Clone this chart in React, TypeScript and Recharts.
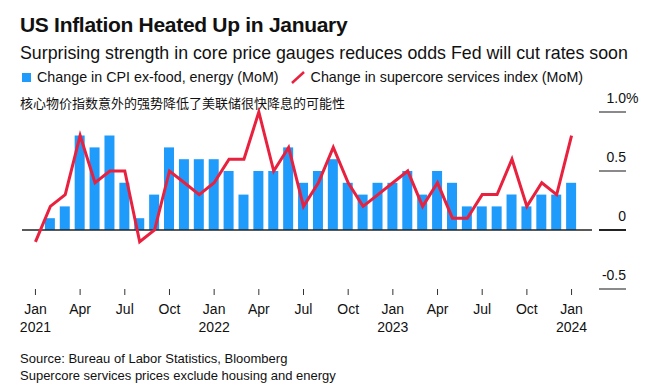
import React from "react";
import { ComposedChart, Bar, Line, XAxis, YAxis, ReferenceLine } from "recharts";

const months = [
  "Jan", "Feb", "Mar", "Apr", "May", "Jun", "Jul", "Aug", "Sep", "Oct", "Nov", "Dec",
  "Jan", "Feb", "Mar", "Apr", "May", "Jun", "Jul", "Aug", "Sep", "Oct", "Nov", "Dec",
  "Jan", "Feb", "Mar", "Apr", "May", "Jun", "Jul", "Aug", "Sep", "Oct", "Nov", "Dec",
  "Jan",
];
const years = [
  2021, 2021, 2021, 2021, 2021, 2021, 2021, 2021, 2021, 2021, 2021, 2021,
  2022, 2022, 2022, 2022, 2022, 2022, 2022, 2022, 2022, 2022, 2022, 2022,
  2023, 2023, 2023, 2023, 2023, 2023, 2023, 2023, 2023, 2023, 2023, 2023,
  2024,
];
const coreCpi = [
  0.0, 0.1, 0.2, 0.8, 0.7, 0.8, 0.4, 0.1, 0.3, 0.7, 0.6, 0.6,
  0.6, 0.5, 0.3, 0.5, 0.5, 0.7, 0.4, 0.5, 0.6, 0.4, 0.3, 0.4,
  0.4, 0.5, 0.3, 0.5, 0.4, 0.2, 0.2, 0.2, 0.3, 0.2, 0.3, 0.3,
  0.4,
];
const supercore = [
  -0.1, 0.2, 0.3, 0.8, 0.4, 0.5, 0.5, -0.1, 0.0, 0.5, 0.4, 0.3,
  0.4, 0.6, 0.6, 1.0, 0.5, 0.7, 0.2, 0.4, 0.7, 0.4, 0.2, 0.3,
  0.4, 0.5, 0.2, 0.4, 0.1, 0.1, 0.3, 0.3, 0.6, 0.2, 0.4, 0.3,
  0.8,
];
const yTicks = [-0.5, 0, 0.5, 1.0];
const yTickLabels = ["-0.5", "0", "0.5", "1.0"];

const data = months.map((m, i) => ({
  key: `${years[i]}-${i}`,
  month: m,
  year: years[i],
  core: coreCpi[i],
  sc: supercore[i],
}));

const FONT = "'Liberation Sans', Arial, Helvetica, sans-serif";
const BLUE = "#1f9bfb";
const RED = "#e8213f";

const XTick = (props: any) => {
  const { x, y, payload } = props;
  const d = data.find((r) => r.key === payload.value);
  if (!d) return null;
  return (
    <g>
      <line x1={x} x2={x} y1={y} y2={y + 6} stroke="#333" strokeWidth={1} />
      <text x={x} y={y + 25} textAnchor="middle" fontSize={14} fill="#111" fontFamily={FONT}>
        {d.month}
      </text>
      {d.month === "Jan" && (
        <text x={x} y={y + 43} textAnchor="middle" fontSize={14} fill="#111" fontFamily={FONT}>
          {d.year}
        </text>
      )}
    </g>
  );
};

const YTick = (props: any) => {
  const { x, y, payload } = props;
  const idx = yTicks.indexOf(payload.value);
  const label = idx >= 0 ? yTickLabels[idx] : String(payload.value);
  const isZero = payload.value === 0;
  return (
    <g>
      <line x1={x + 7} x2={x + 34} y1={y} y2={y} stroke={isZero ? "#222" : "#8a8a8a"} strokeWidth={2} />
      <text x={x + 34} y={y - 9} textAnchor="end" fontSize={14} fill="#111" fontFamily={FONT}>
        {label}
      </text>
      {payload.value === 1 && (
        <text x={x + 34} y={y - 9} textAnchor="start" fontSize={14} fill="#111" fontFamily={FONT}>
          %
        </text>
      )}
    </g>
  );
};

export default function App() {
  return (
    <div
      style={{
        position: "absolute",
        left: 0,
        top: 0,
        width: 666,
        height: 391,
        background: "#fff",
        fontFamily: FONT,
        color: "#111",
        overflow: "hidden",
      }}
    >
      <div style={{ position: "absolute", left: 20, top: 13, fontSize: 21, fontWeight: 700, letterSpacing: -0.3, whiteSpace: "nowrap" }}>
        US Inflation Heated Up in January
      </div>
      <div style={{ position: "absolute", left: 20, top: 43, fontSize: 17.8, whiteSpace: "nowrap" }}>
        Surprising strength in core price gauges reduces odds Fed will cut rates soon
      </div>
      <div style={{ position: "absolute", left: 22, top: 69, fontSize: 14.3, whiteSpace: "nowrap", display: "flex", alignItems: "center" }}>
        <span style={{ display: "inline-block", width: 9, height: 9, background: BLUE, marginRight: 6 }} />
        <span>Change in CPI ex-food, energy (MoM)</span>
        <svg width={32} height={16} style={{ display: "block" }}>
          <line x1={13} y1={14} x2={25} y2={3} stroke={RED} strokeWidth={2.5} />
        </svg>
        <span>Change in supercore services index (MoM)</span>
      </div>
      <div style={{ position: "absolute", left: 20, top: 93, fontSize: 13, whiteSpace: "nowrap", fontFamily: "'Noto Sans CJK SC', sans-serif" }}>
        核心物价指数意外的强势降低了美联储很快降息的可能性
      </div>
      <div style={{ position: "absolute", left: 0, top: 0 }}>
        <ComposedChart
          width={666}
          height={391}
          data={data}
          margin={{ top: 112, right: 0, bottom: 62, left: 22 }}
          barSize={10}
        >
          <XAxis
            dataKey="key"
            interval={2}
            axisLine={false}
            tickLine={false}
            tickSize={0}
            tickMargin={0}
            height={40}
            padding={{ left: 6, right: 13 }}
            tick={<XTick />}
          />
          <YAxis
            orientation="right"
            domain={[-0.5, 1.0]}
            ticks={yTicks}
            width={74}
            axisLine={false}
            tickLine={false}
            tickSize={0}
            tickMargin={0}
            tick={<YTick />}
          />
          <ReferenceLine y={0} stroke="#222" strokeWidth={1.5} />
          <Bar dataKey="core" fill={BLUE} isAnimationActive={false} />
          <Line dataKey="sc" stroke={RED} strokeWidth={3} dot={false} type="linear" isAnimationActive={false} />
        </ComposedChart>
      </div>
      <div style={{ position: "absolute", left: 20, top: 350, fontSize: 13, lineHeight: "17px", whiteSpace: "nowrap" }}>
        Source: Bureau of Labor Statistics, Bloomberg
        <br />
        Supercore services prices exclude housing and energy
      </div>
    </div>
  );
}
